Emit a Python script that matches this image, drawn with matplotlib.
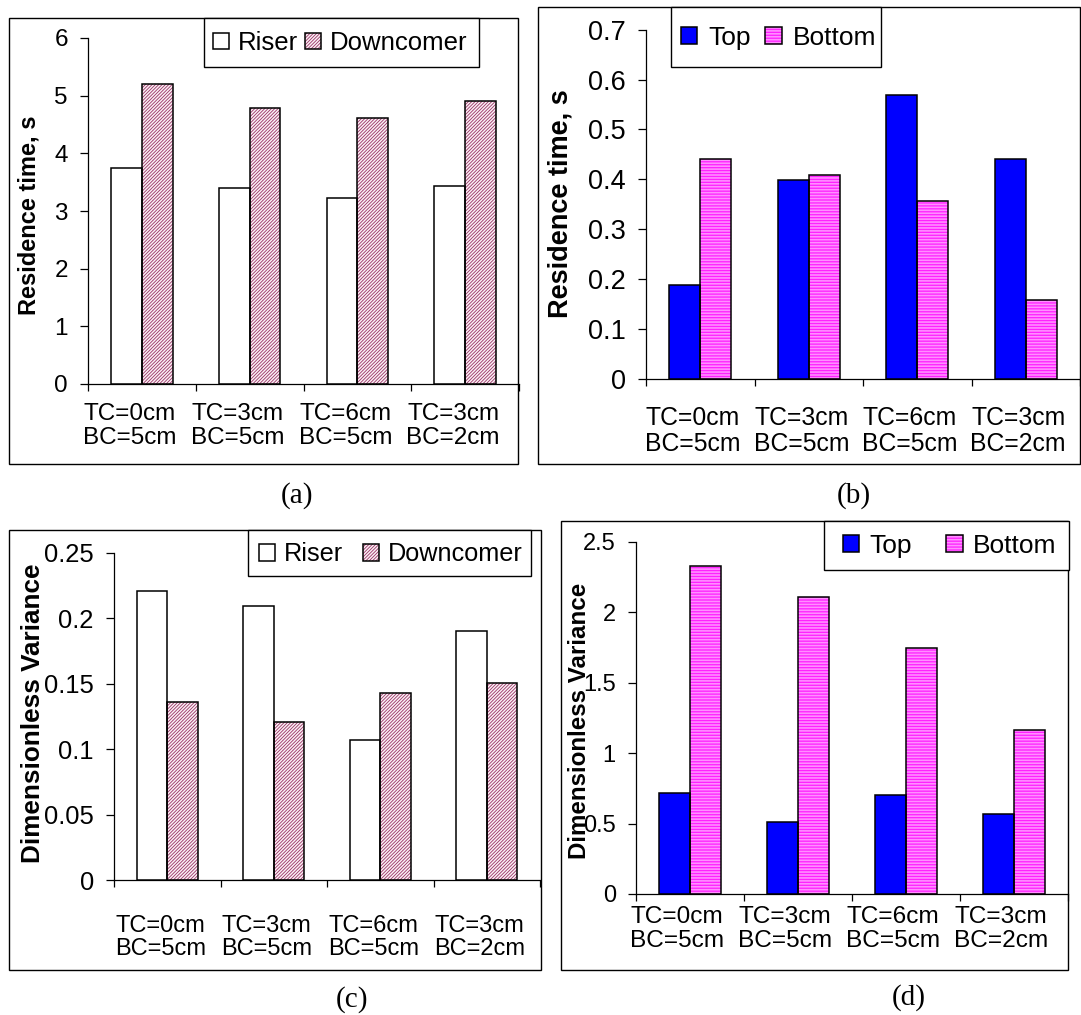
import numpy as np
import matplotlib
matplotlib.use("Agg")
import matplotlib.pyplot as plt
from matplotlib.patches import Patch, Rectangle
from matplotlib.font_manager import FontProperties
from matplotlib.ticker import FixedLocator, FuncFormatter

# ---- data -------------------------------------------------------------
categories = ["TC=0cm\nBC=5cm", "TC=3cm\nBC=5cm", "TC=6cm\nBC=5cm", "TC=3cm\nBC=2cm"]

riser_time = [3.74, 3.40, 3.23, 3.44]
downcomer_time = [5.21, 4.79, 4.61, 4.91]

top_time = [0.188, 0.399, 0.570, 0.441]
bottom_time = [0.441, 0.408, 0.356, 0.158]

riser_var = [0.221, 0.209, 0.107, 0.1905]
downcomer_var = [0.1356, 0.1205, 0.1427, 0.1504]

top_var = [0.719, 0.508, 0.703, 0.567]
bottom_var = [2.327, 2.106, 1.745, 1.163]

ticks_a = [0, 1, 2, 3, 4, 5, 6]
ticks_b = [0, 0.1, 0.2, 0.3, 0.4, 0.5, 0.6, 0.7]
ticks_c = [0, 0.05, 0.1, 0.15, 0.2, 0.25]
ticks_d = [0, 0.5, 1, 1.5, 2, 2.5]

# ---- styling ------------------------------------------------------------
plt.rcParams["font.family"] = ["Liberation Sans", "DejaVu Sans"]
plt.rcParams["hatch.linewidth"] = 0.6

W, H = 1081, 1015
fig = plt.figure(figsize=(W / 100, H / 100), dpi=100)

STYLES = {
    "Riser": dict(face="white", hatch=None, hcolor=None),
    "Downcomer": dict(face="#fbf0f5", hatch="/" * 10, hcolor="#993366"),
    "Top": dict(face="#0000ff", hatch=None, hcolor=None),
    "Bottom": dict(face="#ffd4ff", hatch="-" * 11, hcolor="#ff00ff"),
}

BAR_W = 1 / 3.5  # Excel gap width 150 %


def fig_rect(l, r, t, b):
    return [l / W, 1 - b / H, (r - l) / W, (b - t) / H]


def draw_series(ax, x, vals, name):
    st = STYLES[name]
    if st["hatch"]:
        ax.bar(x, vals, width=BAR_W, color=st["face"], edgecolor=st["hcolor"],
               hatch=st["hatch"], linewidth=0, zorder=2)
        ax.bar(x, vals, width=BAR_W, fill=False, edgecolor="black",
               linewidth=1.1, zorder=3)
    else:
        ax.bar(x, vals, width=BAR_W, color=st["face"], edgecolor="black",
               linewidth=1.1, zorder=3)


def legend_handle(name):
    st = STYLES[name]
    if st["hatch"]:
        return (Patch(facecolor=st["face"], edgecolor=st["hcolor"], hatch=st["hatch"], linewidth=0),
                Patch(fill=False, edgecolor="black", linewidth=1.1))
    return Patch(facecolor=st["face"], edgecolor="black", linewidth=1.1)


def panel(frame, axbox, series, yticks, ylabel, ylabel_xy, tick_fs, lab_fs,
          xl_fs, xl_pad, xl_shift_px, leg_box, leg_anchor, leg_fs, leg_pad,
          leg_colsp, letter, letter_xy):
    # outer frame
    fl, fr, ft, fb = frame
    fig.add_artist(Rectangle((fl / W, 1 - fb / H), (fr - fl) / W, (fb - ft) / H,
                             transform=fig.transFigure, fill=False,
                             edgecolor="black", linewidth=1.0, zorder=0))

    l, r, t, b = axbox
    ax = fig.add_axes(fig_rect(l, r, t, b))
    x = np.arange(len(categories))
    (n1, v1), (n2, v2) = series
    draw_series(ax, x - BAR_W / 2, v1, n1)
    draw_series(ax, x + BAR_W / 2, v2, n2)

    ax.set_xlim(-0.5, len(categories) - 0.5)
    ax.set_ylim(yticks[0], yticks[-1])
    for s in ("top", "right"):
        ax.spines[s].set_visible(False)
    for s in ("left", "bottom"):
        ax.spines[s].set_linewidth(0.9)
        ax.spines[s].set_color("black")
    ax.patch.set_visible(False)

    ax.set_yticks(yticks)
    ax.yaxis.set_major_formatter(FuncFormatter(lambda v, p: "%g" % v))
    ax.tick_params(axis="y", direction="out", length=5.5, width=0.9, pad=9,
                   labelsize=tick_fs)

    cat_px = (r - l) / len(categories)
    shift = xl_shift_px / cat_px
    ax.set_xticks(x + shift)
    ax.set_xticklabels(categories, fontsize=xl_fs, linespacing=1.1)
    ax.tick_params(axis="x", which="major", length=0, pad=xl_pad)
    ax.xaxis.set_minor_locator(FixedLocator(np.arange(len(categories) + 1) - 0.5))
    ax.tick_params(axis="x", which="minor", direction="out", length=5, width=0.9)

    ax.set_ylabel(ylabel, fontsize=lab_fs, fontweight="bold")
    ax.yaxis.label.set_va("center")
    ax.yaxis.set_label_coords(ylabel_xy[0] / W, 1 - ylabel_xy[1] / H,
                              transform=fig.transFigure)

    # legend box + entries
    bl, br, bt, bb = leg_box
    fig.add_artist(Rectangle((bl / W, 1 - bb / H), (br - bl) / W, (bb - bt) / H,
                             transform=fig.transFigure, facecolor="white",
                             edgecolor="black", linewidth=1.0, zorder=4))
    hs = 16.3 / (leg_fs / 0.72)
    leg = fig.legend([legend_handle(n1), legend_handle(n2)], [n1, n2],
                     loc="center left",
                     bbox_to_anchor=(leg_anchor[0] / W, 1 - leg_anchor[1] / H),
                     bbox_transform=fig.transFigure, ncol=2, frameon=False,
                     borderpad=0, borderaxespad=0, handlelength=hs,
                     handleheight=hs, handletextpad=leg_pad,
                     columnspacing=leg_colsp,
                     prop=FontProperties(family="Liberation Sans", size=leg_fs))
    leg.set_zorder(5)

    fig.text(letter_xy[0] / W, 1 - letter_xy[1] / H, letter,
             family=["Liberation Serif", "DejaVu Serif"], fontsize=21,
             ha="center", va="center")
    return ax


# (a) residence time, riser / downcomer
panel(frame=(9, 518, 18, 464), axbox=(88, 519, 38, 384),
      series=[("Riser", riser_time), ("Downcomer", downcomer_time)],
      yticks=ticks_a, ylabel="Residence time, s", ylabel_xy=(29, 215),
      tick_fs=17.5, lab_fs=17, xl_fs=17.5, xl_pad=14, xl_shift_px=-12,
      leg_box=(204, 479, 18, 67), leg_anchor=(213, 43), leg_fs=18.5,
      leg_pad=0.35, leg_colsp=0.25, letter="(a)", letter_xy=(297, 496))

# (b) residence time, top / bottom
panel(frame=(538, 1080, 7, 464), axbox=(646, 1080, 29.7, 379),
      series=[("Top", top_time), ("Bottom", bottom_time)],
      yticks=ticks_b, ylabel="Residence time, s", ylabel_xy=(561, 204),
      tick_fs=19.5, lab_fs=19.5, xl_fs=17.8, xl_pad=19.5, xl_shift_px=-7.5,
      leg_box=(671, 881, 7, 67), leg_anchor=(680.5, 38), leg_fs=19,
      leg_pad=0.42, leg_colsp=0.57, letter="(b)", letter_xy=(854, 496))

# (c) dimensionless variance, riser / downcomer
panel(frame=(9, 541, 530, 970), axbox=(114, 540, 552.6, 880),
      series=[("Riser", riser_var), ("Downcomer", downcomer_var)],
      yticks=ticks_c, ylabel="Dimensionless Variance", ylabel_xy=(33, 713),
      tick_fs=18.4, lab_fs=18.8, xl_fs=17, xl_pad=25, xl_shift_px=-7,
      leg_box=(248, 531, 530, 576), leg_anchor=(259, 554), leg_fs=18.2,
      leg_pad=0.34, leg_colsp=0.79, letter="(c)", letter_xy=(352, 1000))

# (d) dimensionless variance, top / bottom
panel(frame=(561, 1068, 521, 970), axbox=(636, 1068, 542, 894),
      series=[("Top", top_var), ("Bottom", bottom_var)],
      yticks=ticks_d, ylabel="Dimensionless Variance", ylabel_xy=(580, 721),
      tick_fs=17, lab_fs=17.4, xl_fs=17.6, xl_pad=8.6, xl_shift_px=-13,
      leg_box=(824, 1069, 521, 570), leg_anchor=(842.6, 546), leg_fs=19,
      leg_pad=0.4, leg_colsp=1.3, letter="(d)", letter_xy=(909, 998))

fig.savefig("out.png", dpi=100)
